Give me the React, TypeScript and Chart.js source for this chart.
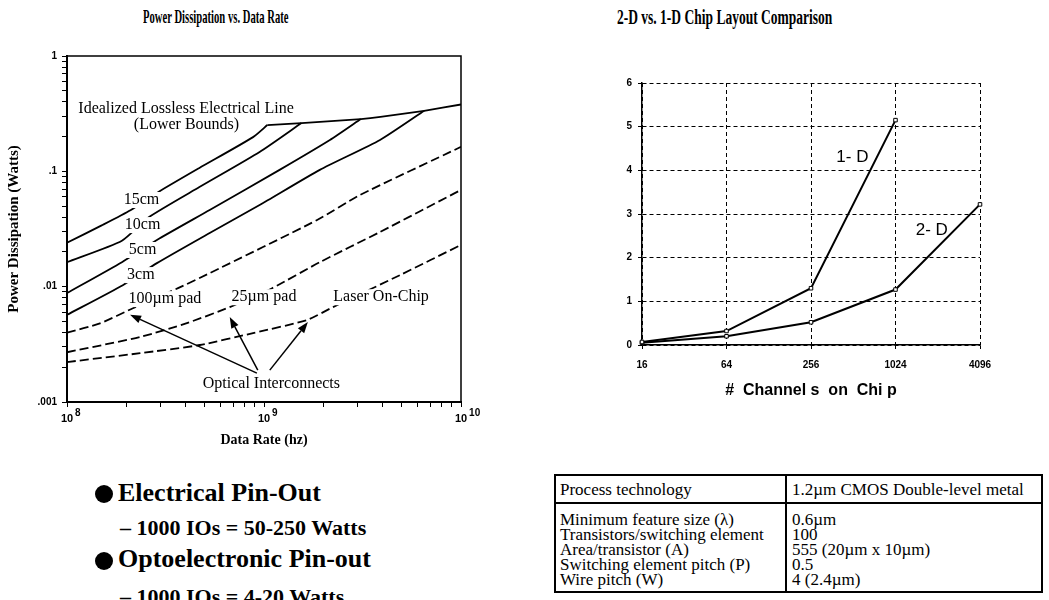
import React, { useEffect, useRef } from 'react';
import { Chart, registerables } from 'chart.js';

Chart.register(...registerables);

const SERIF = '"Liberation Serif", "Times New Roman", serif';
const SANS = '"Liberation Sans", Arial, sans-serif';

// ---------- Left chart: Power Dissipation vs. Data Rate (Hz, Watts) ----------
const IDEAL_X = [1.04e9, 1.55e9, 3.1e9, 3.9e9, 6.5e9, 1e10];
const IDEAL_Y = [0.252, 0.262, 0.284, 0.296, 0.335, 0.38];

const CM15_X = [1e8, 1.5e8, 2.1e8, 2.9e8, 4.7e8, 8.8e8, 1.04e9];
const CM15_Y = [0.024, 0.034, 0.046, 0.066, 0.107, 0.198, 0.252];

const CM10_X = [1e8, 1.9e8, 2.6e8, 4.7e8, 9.5e8, 1.55e9];
const CM10_Y = [0.0163, 0.025, 0.04, 0.073, 0.147, 0.262];

const CM5_X = [1e8, 1.9e8, 2.86e8, 5.3e8, 1.2e9, 2.16e9, 3.1e9];
const CM5_Y = [0.0088, 0.0163, 0.0254, 0.0462, 0.103, 0.187, 0.284];

const CM3_X = [1e8, 1.92e8, 2.86e8, 5.3e8, 9.5e8, 1.92e9, 3.88e9, 6.5e9];
const CM3_Y = [0.0057, 0.0103, 0.016, 0.0292, 0.051, 0.103, 0.187, 0.335];

const PAD100_X = [1e8, 1.47e8, 2.16e8, 3.66e8, 5.3e8, 1.86e9, 3.07e9, 1e10];
const PAD100_Y = [0.004, 0.0048, 0.0065, 0.0097, 0.0131, 0.0378, 0.0623, 0.163];

const PAD25_X = [1e8, 2.35e8, 4.06e8, 6.7e8, 1.1e9, 1.92e9, 3.88e9, 1e10];
const PAD25_Y = [0.0027, 0.00366, 0.00483, 0.00665, 0.0097, 0.0163, 0.0298, 0.069];

const LASER_X = [1e8, 2.35e8, 4.73e8, 8.8e8, 1.65e9, 2.24e9, 4.9e9, 1e10];
const LASER_Y = [0.00222, 0.00265, 0.00312, 0.00396, 0.00513, 0.00665, 0.0126, 0.023];

const RATE_DECADES = [1e8, 1e9, 1e10];
const POWER_DECADES = [0.001, 0.01, 0.1, 1];

// annotation texts placed in data units (Hz, Watts)
const LEFT_LABELS = [
  { text: 'Idealized Lossless Electrical Line', x: 4.02e8, y: 0.347 },
  { text: '(Lower Bounds)', x: 4.04e8, y: 0.252 },
  { text: '15cm', x: 2.39e8, y: 0.0564 },
  { text: '10cm', x: 2.42e8, y: 0.0342 },
  { text: '5cm', x: 2.42e8, y: 0.0208 },
  { text: '3cm', x: 2.37e8, y: 0.0126 },
  { text: '100\u00b5m pad', x: 3.14e8, y: 0.0078 },
  { text: '25\u00b5m pad', x: 1.0e9, y: 0.0081 },
  { text: 'Laser On-Chip', x: 3.93e9, y: 0.0081 },
  { text: 'Optical Interconnects', x: 1.09e9, y: 0.00143 },
];
const LEFT_ARROWS = [
  { fromX: 9.2e8, fromY: 0.00178, toX: 2.09e8, toY: 0.0057 },
  { fromX: 9.3e8, fromY: 0.00189, toX: 6.7e8, toY: 0.00545 },
  { fromX: 1.07e9, fromY: 0.00189, toX: 1.67e9, toY: 0.00493 },
];

// ---------- Right chart: 2-D vs. 1-D Chip Layout ----------
const CHANNELS = ['16', '64', '256', '1024', '4096'];
const ONE_D = [0.07, 0.32, 1.3, 5.15, null];
const TWO_D = [0.05, 0.2, 0.52, 1.27, 3.22];
const RIGHT_LABELS = [
  { text: '1- D', x: 2.49, y: 4.3 },
  { text: '2- D', x: 3.43, y: 2.63 },
];

// ---------- Table ----------
const TABLE_HEAD = ['Process technology', '1.2\u00b5m CMOS Double-level metal'];
const TABLE_PARAMS = [
  'Minimum feature size (\u03bb)',
  'Transistors/switching element',
  'Area/transistor (A)',
  'Switching element pitch (P)',
  'Wire pitch (W)',
];
const TABLE_VALUES = ['0.6\u00b5m', '100', '555 (20\u00b5m x 10\u00b5m)', '0.5', '4 (2.4\u00b5m)'];

function decadeTicks(lo: number, hi: number): number[] {
  const out: number[] = [];
  for (let e = lo; e < hi; e++) for (let m = 1; m < 10; m++) out.push(m * Math.pow(10, e));
  out.push(Math.pow(10, hi));
  return out;
}
const isPow10 = (v: number) => Math.abs(Math.log10(v) - Math.round(Math.log10(v))) < 1e-9;

function curve(label: string, xs: number[], ys: number[], dashed: boolean) {
  return {
    label,
    data: xs.map((x, i) => ({ x, y: ys[i] })),
    borderColor: '#000',
    borderWidth: 1.8,
    borderDash: dashed ? [9, 4] : [],
    pointRadius: 0,
    tension: 0.2,
    fill: false,
  };
}

const leftDeco = {
  id: 'leftDeco',
  afterDatasetsDraw(chart: any) {
    const { ctx, scales } = chart;
    const xs = scales.x;
    const ys = scales.y;
    ctx.save();
    ctx.font = `16px ${SERIF}`;
    ctx.textAlign = 'center';
    ctx.textBaseline = 'middle';
    for (const l of LEFT_LABELS) {
      const px = xs.getPixelForValue(l.x);
      const py = ys.getPixelForValue(l.y);
      const w = ctx.measureText(l.text).width;
      ctx.fillStyle = '#fff';
      ctx.fillRect(px - w / 2 - 2, py - 8, w + 4, 16);
      ctx.fillStyle = '#000';
      ctx.fillText(l.text, px, py);
    }
    ctx.strokeStyle = '#000';
    ctx.fillStyle = '#000';
    ctx.lineWidth = 1.5;
    for (const a of LEFT_ARROWS) {
      const x1 = xs.getPixelForValue(a.fromX);
      const y1 = ys.getPixelForValue(a.fromY);
      const x2 = xs.getPixelForValue(a.toX);
      const y2 = ys.getPixelForValue(a.toY);
      const ang = Math.atan2(y2 - y1, x2 - x1);
      const hl = 11;
      const hw = 4;
      const bx = x2 - hl * Math.cos(ang);
      const by = y2 - hl * Math.sin(ang);
      ctx.beginPath();
      ctx.moveTo(x1, y1);
      ctx.lineTo(bx, by);
      ctx.stroke();
      ctx.beginPath();
      ctx.moveTo(x2, y2);
      ctx.lineTo(bx + hw * Math.sin(ang), by - hw * Math.cos(ang));
      ctx.lineTo(bx - hw * Math.sin(ang), by + hw * Math.cos(ang));
      ctx.closePath();
      ctx.fill();
    }
    ctx.restore();
  },
  afterDraw(chart: any) {
    const { ctx, chartArea, scales } = chart;
    ctx.save();
    ctx.strokeStyle = '#000';
    ctx.lineWidth = 1.5;
    ctx.beginPath();
    ctx.moveTo(chartArea.left, chartArea.top);
    ctx.lineTo(chartArea.right, chartArea.top);
    ctx.lineTo(chartArea.right, chartArea.bottom);
    ctx.stroke();
    ctx.fillStyle = '#000';
    ctx.textBaseline = 'middle';
    for (const v of RATE_DECADES) {
      const px = scales.x.getPixelForValue(v);
      const exp = String(Math.round(Math.log10(v)));
      ctx.font = `bold 11px ${SANS}`;
      ctx.textAlign = 'center';
      ctx.fillText('10', px, chartArea.bottom + 17);
      const w = ctx.measureText('10').width;
      ctx.font = `bold 10px ${SANS}`;
      ctx.textAlign = 'left';
      ctx.fillText(exp, px + w / 2 + 2, chartArea.bottom + 11);
    }
    ctx.restore();
  },
};

const rightDeco = {
  id: 'rightDeco',
  afterDatasetsDraw(chart: any) {
    const { ctx, scales } = chart;
    ctx.save();
    ctx.font = `17px ${SANS}`;
    ctx.textAlign = 'center';
    ctx.textBaseline = 'middle';
    ctx.fillStyle = '#000';
    for (const l of RIGHT_LABELS) {
      ctx.fillText(l.text, scales.x.getPixelForValue(l.x), scales.y.getPixelForValue(l.y));
    }
    ctx.restore();
  },
};

export default function App() {
  const leftRef = useRef<HTMLCanvasElement>(null);
  const rightRef = useRef<HTMLCanvasElement>(null);

  useEffect(() => {
    const rateTicks = decadeTicks(8, 10);
    const powerTicks = decadeTicks(-3, 0);
    const left = new Chart(leftRef.current as HTMLCanvasElement, {
      type: 'line',
      data: {
        datasets: [
          curve('Idealized Lossless Electrical Line', IDEAL_X, IDEAL_Y, false),
          curve('15cm', CM15_X, CM15_Y, false),
          curve('10cm', CM10_X, CM10_Y, false),
          curve('5cm', CM5_X, CM5_Y, false),
          curve('3cm', CM3_X, CM3_Y, false),
          curve('100\u00b5m pad', PAD100_X, PAD100_Y, true),
          curve('25\u00b5m pad', PAD25_X, PAD25_Y, true),
          curve('Laser On-Chip', LASER_X, LASER_Y, true),
        ] as any,
      },
      options: {
        animation: false,
        responsive: false,
        maintainAspectRatio: false,
        layout: { padding: { top: 56, right: 19, left: 0, bottom: 0 } },
        plugins: { legend: { display: false }, tooltip: { enabled: false } },
        scales: {
          x: {
            type: 'logarithmic',
            min: 1e8,
            max: 1e10,
            afterBuildTicks: (s: any) => {
              s.ticks = rateTicks.map((v) => ({ value: v }));
            },
            afterFit: (s: any) => {
              s.height = 58;
            },
            grid: { drawOnChartArea: false, color: '#000', tickLength: 5, lineWidth: 1 },
            border: { color: '#000', width: 2 },
            ticks: { callback: () => '', autoSkip: false, maxRotation: 0 },
            title: {
              display: true,
              text: 'Data Rate (hz)',
              color: '#000',
              font: { family: SERIF, size: 14, weight: 'bold' },
              padding: { top: 0, bottom: 11 },
            },
          },
          y: {
            type: 'logarithmic',
            min: 0.001,
            max: 1,
            afterBuildTicks: (s: any) => {
              s.ticks = powerTicks.map((v) => ({ value: v }));
            },
            afterFit: (s: any) => {
              s.width = 67;
            },
            grid: { drawOnChartArea: false, color: '#000', tickLength: 5, lineWidth: 1 },
            border: { color: '#000', width: 2 },
            ticks: {
              autoSkip: false,
              color: '#000',
              padding: 5,
              font: { family: SANS, size: 10, weight: 'bold' },
              callback: (v: any) => {
                const n = Number(v);
                if (!POWER_DECADES.some((d) => Math.abs(d - n) < d * 1e-6) || !isPow10(n)) return '';
                const e = Math.round(Math.log10(n));
                return e === 0 ? '1' : '.' + '0'.repeat(-e - 1) + '1';
              },
            },
            title: {
              display: true,
              text: 'Power Dissipation (Watts)',
              color: '#000',
              font: { family: SERIF, size: 15, weight: 'bold' },
              padding: { top: 5, bottom: 0 },
            },
          },
        },
      } as any,
      plugins: [leftDeco],
    });

    const right = new Chart(rightRef.current as HTMLCanvasElement, {
      type: 'line',
      data: {
        labels: CHANNELS,
        datasets: [
          {
            label: '1-D',
            data: ONE_D,
            borderColor: '#000',
            borderWidth: 2,
            pointStyle: 'rect',
            pointRadius: 2.5,
            pointBackgroundColor: '#fff',
            pointBorderColor: '#000',
            pointBorderWidth: 1,
            tension: 0,
            clip: 8,
          },
          {
            label: '2-D',
            data: TWO_D,
            borderColor: '#000',
            borderWidth: 2,
            pointStyle: 'rect',
            pointRadius: 2.5,
            pointBackgroundColor: '#fff',
            pointBorderColor: '#000',
            pointBorderWidth: 1,
            tension: 0,
            clip: 8,
          },
        ] as any,
      },
      options: {
        animation: false,
        responsive: false,
        maintainAspectRatio: false,
        layout: { padding: { top: 23, right: 60, left: 0, bottom: 0 } },
        plugins: { legend: { display: false }, tooltip: { enabled: false } },
        scales: {
          x: {
            type: 'category',
            offset: false,
            afterFit: (s: any) => {
              s.height = 75;
            },
            grid: { color: '#000', lineWidth: 1, tickLength: 4 },
            border: { color: '#000', width: 1.5, dash: [4, 3] },
            ticks: {
              color: '#000',
              padding: 10,
              maxRotation: 0,
              autoSkip: false,
              font: { family: SANS, size: 10, weight: 'bold' },
            },
            title: {
              display: true,
              text: '#  Channel s  on  Chi p',
              color: '#000',
              font: { family: SANS, size: 16, weight: 'bold' },
              padding: { top: 0, bottom: 20 },
            },
          },
          y: {
            min: 0,
            max: 6,
            afterFit: (s: any) => {
              s.width = 82;
            },
            grid: { color: '#000', lineWidth: 1, tickLength: 4 },
            border: { color: '#000', width: 1.5, dash: [4, 3] },
            ticks: {
              stepSize: 1,
              color: '#000',
              padding: 6,
              font: { family: SANS, size: 10, weight: 'bold' },
            },
          },
        },
      } as any,
      plugins: [rightDeco],
    });

    return () => {
      left.destroy();
      right.destroy();
    };
  }, []);

  const cellBorder = '2px solid #000';

  return (
    <div
      style={{
        position: 'absolute',
        left: 0,
        top: 0,
        width: 1049,
        height: 600,
        overflow: 'hidden',
        background: '#fff',
        color: '#000',
        fontFamily: SERIF,
      }}
    >
      <div
        style={{
          position: 'absolute',
          left: 143,
          top: 6,
          fontSize: 19,
          lineHeight: '21px',
          fontWeight: 'bold',
          whiteSpace: 'nowrap',
          transform: 'scaleX(0.56)',
          transformOrigin: 'left top',
        }}
      >
        Power Dissipation vs. Data Rate
      </div>
      <div
        style={{
          position: 'absolute',
          left: 617,
          top: 6,
          fontSize: 20,
          lineHeight: '22px',
          fontWeight: 'bold',
          whiteSpace: 'nowrap',
          transform: 'scaleX(0.675)',
          transformOrigin: 'left top',
        }}
      >
        2-D vs. 1-D Chip Layout Comparison
      </div>

      <canvas
        ref={leftRef}
        width={480}
        height={460}
        style={{ position: 'absolute', left: 0, top: 0, width: 480, height: 460 }}
      />
      <canvas
        ref={rightRef}
        width={480}
        height={360}
        style={{ position: 'absolute', left: 560, top: 60, width: 480, height: 360 }}
      />

      <div style={{ position: 'absolute', left: 95, top: 485, width: 18, height: 18, borderRadius: 9, background: '#000' }} />
      <div style={{ position: 'absolute', left: 118, top: 480, fontSize: 26, lineHeight: '26px', fontWeight: 'bold', whiteSpace: 'nowrap' }}>
        Electrical Pin-Out
      </div>
      <div style={{ position: 'absolute', left: 120, top: 517, fontSize: 22, lineHeight: '22px', fontWeight: 'bold', whiteSpace: 'nowrap' }}>
        – 1000 IOs = 50-250 Watts
      </div>
      <div style={{ position: 'absolute', left: 95, top: 552, width: 18, height: 18, borderRadius: 9, background: '#000' }} />
      <div style={{ position: 'absolute', left: 118, top: 546, fontSize: 26, lineHeight: '26px', fontWeight: 'bold', whiteSpace: 'nowrap' }}>
        Optoelectronic Pin-out
      </div>
      <div style={{ position: 'absolute', left: 120, top: 586, fontSize: 22, lineHeight: '22px', fontWeight: 'bold', whiteSpace: 'nowrap' }}>
        – 1000 IOs = 4-20 Watts
      </div>

      <table
        style={{
          position: 'absolute',
          left: 554,
          top: 474,
          width: 489,
          borderCollapse: 'collapse',
          fontFamily: SERIF,
          fontSize: 17,
          lineHeight: '15px',
        }}
      >
        <tbody>
          <tr style={{ height: 28 }}>
            <td style={{ border: cellBorder, padding: '0 4px', width: 221, whiteSpace: 'nowrap' }}>{TABLE_HEAD[0]}</td>
            <td style={{ border: cellBorder, padding: '0 5px', whiteSpace: 'nowrap' }}>{TABLE_HEAD[1]}</td>
          </tr>
          <tr>
            <td style={{ border: cellBorder, padding: '8px 4px 4px 4px', verticalAlign: 'top', whiteSpace: 'nowrap' }}>
              {TABLE_PARAMS.map((p, i) => (
                <div key={i}>{p}</div>
              ))}
            </td>
            <td style={{ border: cellBorder, padding: '8px 5px 4px 5px', verticalAlign: 'top', whiteSpace: 'nowrap' }}>
              {TABLE_VALUES.map((p, i) => (
                <div key={i}>{p}</div>
              ))}
            </td>
          </tr>
        </tbody>
      </table>
    </div>
  );
}
